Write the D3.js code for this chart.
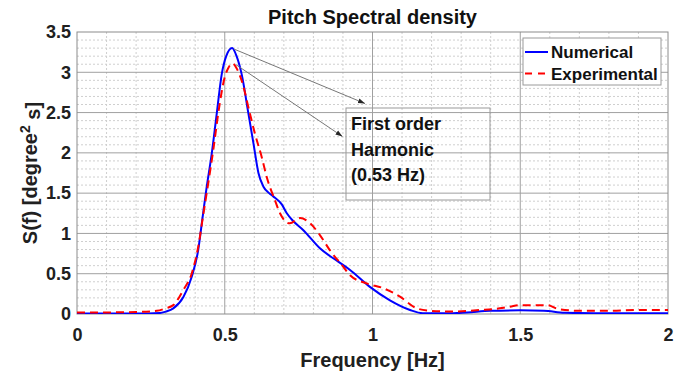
<!DOCTYPE html>
<html>
<head>
<meta charset="utf-8">
<script src="https://cdn.jsdelivr.net/npm/d3@7"></script>
<style>
  body { margin: 0; background: #fff; }
  svg { font-family: "Liberation Sans", Arial, sans-serif; font-weight: bold; }
</style>
</head>
<body>
<div id="chart"></div>
<script>
// data
const numFreq = [0, 0.1, 0.2, 0.28, 0.30, 0.326, 0.36, 0.388, 0.41, 0.425, 0.439, 0.456, 0.473, 0.49, 0.505, 0.525, 0.54, 0.557, 0.58, 0.597, 0.614, 0.631, 0.65, 0.664, 0.693, 0.71, 0.73, 0.766, 0.822, 0.884, 0.924, 0.99, 1.059, 1.127, 1.17, 1.25, 1.32, 1.4, 1.5, 1.58, 1.65, 1.75, 2.0];
const numVal  = [0.005, 0.005, 0.005, 0.012, 0.03, 0.07, 0.21, 0.46, 0.79, 1.2, 1.58, 1.99, 2.49, 2.98, 3.2, 3.30, 3.2, 2.98, 2.49, 2.12, 1.75, 1.58, 1.5, 1.46, 1.36, 1.25, 1.16, 1.04, 0.815, 0.65, 0.546, 0.34, 0.17, 0.05, 0.01, 0.008, 0.02, 0.04, 0.045, 0.04, 0.015, 0.01, 0.01];

const expFreq = [0, 0.1, 0.2, 0.27, 0.3, 0.326, 0.36, 0.388, 0.41, 0.428, 0.444, 0.461, 0.478, 0.50, 0.513, 0.526, 0.54, 0.557, 0.585, 0.602, 0.625, 0.642, 0.67, 0.687, 0.705, 0.72, 0.755, 0.789, 0.822, 0.856, 0.896, 0.924, 0.98, 1.037, 1.093, 1.15, 1.195, 1.27, 1.364, 1.43, 1.465, 1.5, 1.59, 1.63, 1.7, 1.8, 1.9, 2.0];
const expVal  = [0.02, 0.02, 0.025, 0.04, 0.07, 0.11, 0.3, 0.5, 0.83, 1.25, 1.62, 2.03, 2.49, 2.94, 3.06, 3.11, 3.05, 2.9, 2.49, 2.24, 1.95, 1.70, 1.41, 1.25, 1.15, 1.125, 1.19, 1.125, 0.98, 0.79, 0.61, 0.48, 0.38, 0.32, 0.215, 0.07, 0.04, 0.03, 0.05, 0.07, 0.09, 0.11, 0.11, 0.06, 0.04, 0.04, 0.05, 0.05];

const xTicks = [0, 0.5, 1, 1.5, 2];
const yTicks = [0, 0.5, 1, 1.5, 2, 2.5, 3, 3.5];
const seriesNames = ["Numerical", "Experimental"];
const noteLines = ["First order", "Harmonic", "(0.53 Hz)"];
const noteTargets = [[0.525, 3.30], [0.53, 3.11]];

const margin = {top: 32, right: 24, bottom: 62, left: 77};
const width = 692 - margin.left - margin.right;
const height = 376 - margin.top - margin.bottom;

const x = d3.scaleLinear().domain([0, 2]).range([0, width]);
const y = d3.scaleLinear().domain([0, 3.5]).range([height, 0]);

const svg = d3.select("#chart").append("svg")
    .attr("width", 692)
    .attr("height", 376);

const defs = svg.append("defs");
defs.append("clipPath").attr("id", "clip")
    .append("rect").attr("width", width).attr("height", height);
defs.append("marker")
    .attr("id", "arrow")
    .attr("viewBox", "0 0 10 10")
    .attr("refX", 10).attr("refY", 5)
    .attr("markerWidth", 7).attr("markerHeight", 7)
    .attr("markerUnits", "userSpaceOnUse")
    .attr("orient", "auto")
    .append("path")
    .attr("d", "M0,1.5 L10,5 L0,8.5 Z")
    .attr("fill", "#262626");

const g = svg.append("g")
    .attr("transform", "translate(" + margin.left + "," + margin.top + ")");

// minor grid every 0.1
const xMinor = d3.range(1, 20).map(d => d / 10).filter(d => !xTicks.includes(d));
const yMinor = d3.range(1, 35).map(d => d / 10).filter(d => !yTicks.some(t => Math.abs(t - d) < 1e-9));

g.append("g").selectAll("line").data(xMinor).enter().append("line")
    .attr("x1", d => x(d)).attr("x2", d => x(d))
    .attr("y1", 0).attr("y2", height)
    .attr("stroke", "#cfcfcf").attr("stroke-dasharray", "2,2");
g.append("g").selectAll("line").data(yMinor).enter().append("line")
    .attr("y1", d => y(d)).attr("y2", d => y(d))
    .attr("x1", 0).attr("x2", width)
    .attr("stroke", "#cfcfcf").attr("stroke-dasharray", "2,2");

// major grid
g.append("g").selectAll("line").data(xTicks.slice(1, -1)).enter().append("line")
    .attr("x1", d => x(d)).attr("x2", d => x(d))
    .attr("y1", 0).attr("y2", height)
    .attr("stroke", "#a0a0a0");
g.append("g").selectAll("line").data(yTicks.slice(1, -1)).enter().append("line")
    .attr("y1", d => y(d)).attr("y2", d => y(d))
    .attr("x1", 0).attr("x2", width)
    .attr("stroke", "#a0a0a0");

// axes
const xAxis = g.append("g")
    .attr("transform", "translate(0," + height + ")")
    .call(d3.axisBottom(x).tickValues(xTicks).tickFormat(d => String(d)).tickSize(0).tickPadding(14));
const yAxis = g.append("g")
    .call(d3.axisLeft(y).tickValues(yTicks).tickFormat(d => String(d)).tickSize(0).tickPadding(6));
[xAxis, yAxis].forEach(a => {
    a.select(".domain").remove();
    a.selectAll("text")
        .style("font-family", "inherit")
        .style("font-weight", "bold")
        .style("font-size", "18px")
        .attr("fill", "#202020");
});

// box
g.append("rect")
    .attr("width", width).attr("height", height)
    .attr("fill", "none").attr("stroke", "#8c8c8c");

// lines
const line = d3.line()
    .x(d => x(d[0]))
    .y(d => y(d[1]))
    .curve(d3.curveMonotoneX);

const plot = g.append("g").attr("clip-path", "url(#clip)");
plot.append("path")
    .datum(numFreq.map((f, i) => [f, numVal[i]]))
    .attr("fill", "none")
    .attr("stroke", "#0000ff")
    .attr("stroke-width", 2)
    .attr("d", line);
plot.append("path")
    .datum(expFreq.map((f, i) => [f, expVal[i]]))
    .attr("fill", "none")
    .attr("stroke", "#ff0000")
    .attr("stroke-width", 2)
    .attr("stroke-dasharray", "8,5")
    .attr("d", line);

// annotation
const box = {x: 346 - margin.left, y: 108 - margin.top, w: 144, h: 92};
g.append("rect")
    .attr("x", box.x).attr("y", box.y)
    .attr("width", box.w).attr("height", box.h)
    .attr("fill", "none").attr("stroke", "#9a9a9a");
g.append("g").selectAll("text").data(noteLines).enter().append("text")
    .attr("x", box.x + 5)
    .attr("y", (d, i) => box.y + 22 + i * 25.7)
    .attr("fill", "#111")
    .style("font-size", "18px")
    .text(d => d);

const arrowEnds = [[365 - margin.left, 103.5 - margin.top], [342.5 - margin.left, 136.5 - margin.top]];
g.append("g").selectAll("line").data(noteTargets).enter().append("line")
    .attr("x1", d => x(d[0]) + 2)
    .attr("y1", d => y(d[1]) + 1)
    .attr("x2", (d, i) => arrowEnds[i][0])
    .attr("y2", (d, i) => arrowEnds[i][1])
    .attr("stroke", "#777")
    .attr("stroke-width", 1)
    .attr("marker-end", "url(#arrow)");

// legend
const legend = g.append("g").attr("transform", "translate(" + (523 - margin.left) + "," + (38 - margin.top) + ")");
legend.append("rect")
    .attr("width", 138).attr("height", 47)
    .attr("fill", "#fff").attr("stroke", "#9a9a9a");
const legendColors = ["#0000ff", "#ff0000"];
const rows = legend.selectAll("g").data(seriesNames).enter().append("g")
    .attr("transform", (d, i) => "translate(0," + (14 + i * 21.5) + ")");
rows.append("line")
    .attr("x1", 2).attr("x2", 25)
    .attr("stroke", (d, i) => legendColors[i])
    .attr("stroke-width", 2)
    .attr("stroke-dasharray", (d, i) => i === 1 ? "7,6" : null);
rows.append("text")
    .attr("x", 28).attr("dy", "0.36em")
    .attr("fill", "#111")
    .style("font-size", "17px")
    .text(d => d);

// title and labels
svg.append("text")
    .attr("x", margin.left + width / 2).attr("y", 24)
    .attr("text-anchor", "middle")
    .attr("fill", "#111")
    .style("font-size", "20px")
    .text("Pitch Spectral density");

svg.append("text")
    .attr("x", margin.left + width / 2).attr("y", 367)
    .attr("text-anchor", "middle")
    .attr("fill", "#202020")
    .style("font-size", "20px")
    .text("Frequency [Hz]");

const ylab = svg.append("text")
    .attr("transform", "translate(37," + (margin.top + height / 2) + ") rotate(-90)")
    .attr("text-anchor", "middle")
    .attr("fill", "#202020")
    .style("font-size", "20px");
ylab.append("tspan").text("S(f) [degree");
ylab.append("tspan").attr("dy", "-0.5em").style("font-size", "14px").text("2");
ylab.append("tspan").attr("dy", "0.5em").text(" s]");
</script>
</body>
</html>
